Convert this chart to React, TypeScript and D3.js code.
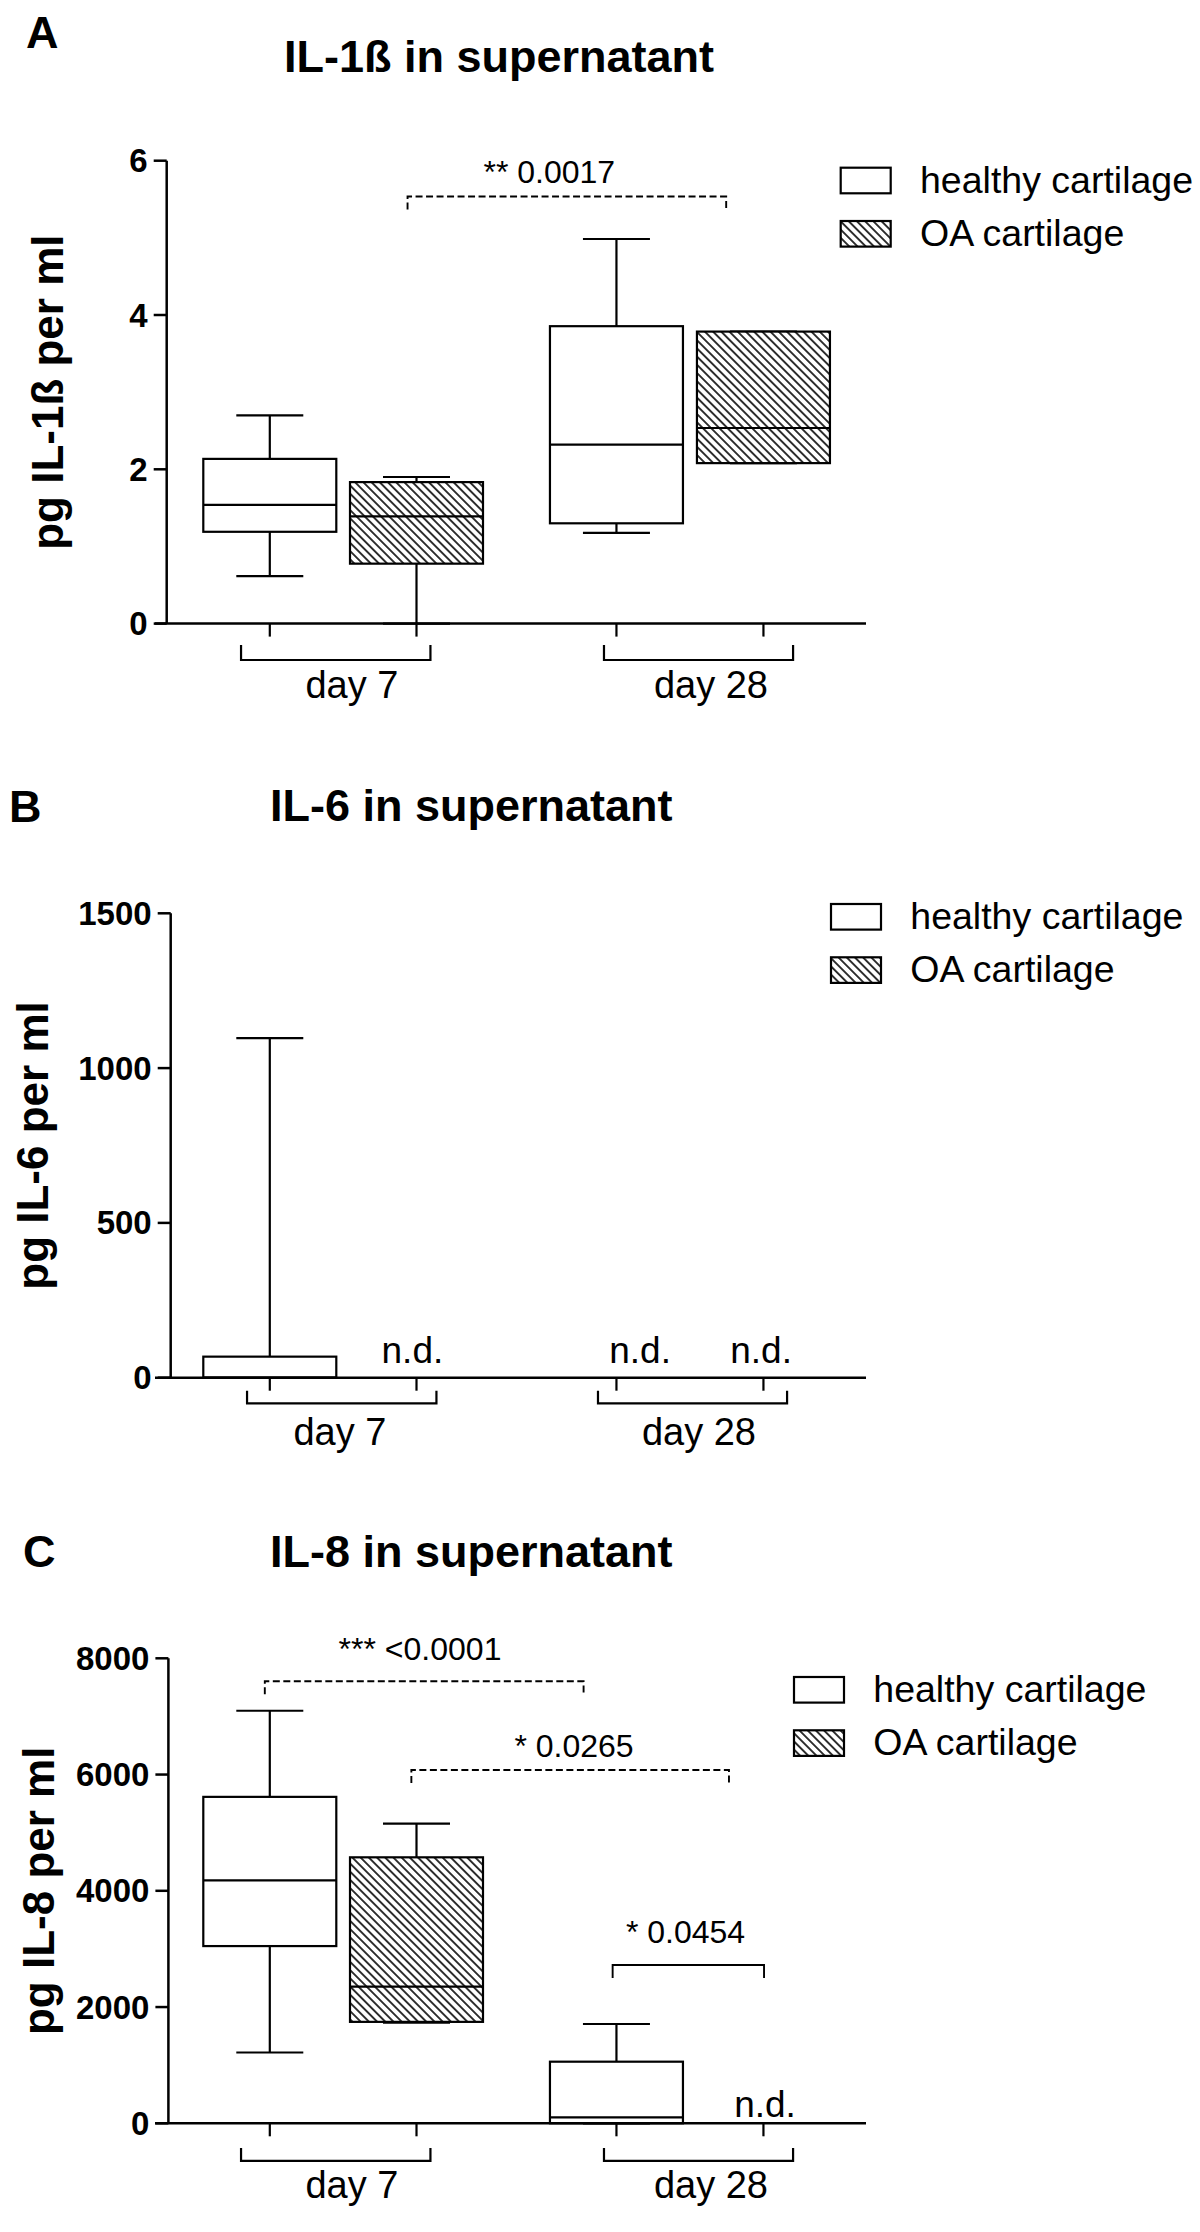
import React from 'react';
import * as d3 from 'd3';

// ---------- data ----------
const seriesNames = ['healthy cartilage', 'OA cartilage'];
const dayLabels = ['day 7', 'day 28'];
// box order: healthy d7, OA d7, healthy d28, OA d28 (slot positions on the category axis)
const boxSlots = [0, 1, 2.363, 3.365];
const boxSeries = [0, 1, 0, 1];
const daySlots = [0.56, 3.007];
const dayBracketSlots = [[-0.196, 1.095], [2.278, 3.567]];

// [min, q1, median, q3, max]
const il1bStats = [
  [0.615, 1.19, 1.54, 2.135, 2.70],
  [0, 0.777, 1.39, 1.834, 1.90],
  [1.175, 1.30, 2.32, 3.855, 4.985],
  [2.08, 2.08, 2.535, 3.785, 3.785],
];
const il6Stats = [[0, 0, 0, 68, 1097], null, null, null];
const il8Stats = [
  [1218, 3049, 4181, 5616, 7098],
  [1730, 1745, 2351, 4576, 5155],
  [0, 0, 103, 1060, 1708],
  null,
];

const il1bTicks = [0, 2, 4, 6];
const il6Ticks = [0, 500, 1000, 1500];
const il8Ticks = [0, 2000, 4000, 6000, 8000];

const il1bSig = [{ label: '** 0.0017', s1: 0.939, s2: 3.111, v: 5.535, ts: 1.905, tv: 5.711, dashed: true }];
const il6Sig: any[] = [];
const il8Sig = [
  { label: '*** <0.0001', s1: -0.034, s2: 2.139, v: 7606, ts: 1.024, tv: 7967, dashed: true },
  { label: '* 0.0265', s1: 0.965, s2: 3.13, v: 6078, ts: 2.074, tv: 6309, dashed: true },
  { label: '* 0.0454', s1: 2.337, s2: 3.369, v: 2723, ts: 2.834, tv: 3107, dashed: false },
];

const il1bND: any[] = [];
const il6ND = [{ s: 0.972, v: 48 }, { s: 2.524, v: 48 }, { s: 3.349, v: 48 }];
const il8ND = [{ s: 3.376, v: 108 }];

const panelLetters = ['A', 'B', 'C'];
const panelTitles = ['IL-1ß in supernatant', 'IL-6 in supernatant', 'IL-8 in supernatant'];
const yTitles = ['pg IL-1ß per ml', 'pg IL-6 per ml', 'pg IL-8 per ml'];

// ---------- layout (pixels) ----------
const layouts = [
  { axisX: 166.7, yTop: 160.7, y0: 623.6, letterX: 26, letterY: 48, titleY: 71.7, titleX: 284, ylabX: 62.6,
    brTop: 21.4, brBot: 36.4, dayY: 74.4, dayDx: 0, legX: 840.7, legY: 167.7 },
  { axisX: 170.7, yTop: 913.3, y0: 1377.7, letterX: 9, letterY: 822, titleY: 821, titleX: 270, ylabX: 48,
    brTop: 13, brBot: 25.6, dayY: 67, dayDx: -12, legX: 831, legY: 904 },
  { axisX: 168.4, yTop: 1658.3, y0: 2123.3, letterX: 23, letterY: 1567, titleY: 1567, titleX: 270, ylabX: 54,
    brTop: 24.7, brBot: 37.5, dayY: 75, dayDx: 0, legX: 794, legY: 1677 },
];

const panelsData = [
  { stats: il1bStats, ticks: il1bTicks, sig: il1bSig, nd: il1bND },
  { stats: il6Stats, ticks: il6Ticks, sig: il6Sig, nd: il6ND },
  { stats: il8Stats, ticks: il8Ticks, sig: il8Sig, nd: il8ND },
];

const FONT = "'Liberation Sans', Arial, Helvetica, sans-serif";

function Panel({ idx }: { idx: number }) {
  const L = layouts[idx];
  const D = panelsData[idx];
  const ymax = D.ticks[D.ticks.length - 1];
  const y = d3.scaleLinear().domain([0, ymax]).range([L.y0, L.yTop]);
  const xs = d3.scaleLinear().domain([0, 1]).range([269.8, 416.5]);
  const halfW = 66.5;
  const capHalf = 33.5;
  const sw = 2.2;

  return (
    <g>
      <text x={L.letterX} y={L.letterY} fontSize={45} fontWeight="bold" fontFamily={FONT}>{panelLetters[idx]}</text>
      <text x={L.titleX} y={L.titleY} fontSize={45} fontWeight="bold" fontFamily={FONT}>{panelTitles[idx]}</text>
      <text transform={`translate(${L.ylabX},${(L.yTop + L.y0) / 2}) rotate(-90)`} textAnchor="middle"
        fontSize={44} fontWeight="bold" fontFamily={FONT}>{yTitles[idx]}</text>

      {/* boxes */}
      {D.stats.map((s: any, i: number) => {
        if (!s) return null;
        const cx = xs(boxSlots[i]);
        const fill = boxSeries[i] === 1 ? 'url(#hatch)' : '#fff';
        return (
          <g key={i} stroke="#000" strokeWidth={sw} fill="none">
            <line x1={cx} x2={cx} y1={y(s[4])} y2={y(s[3])} />
            <line x1={cx} x2={cx} y1={y(s[1])} y2={y(s[0])} />
            <line x1={cx - capHalf} x2={cx + capHalf} y1={y(s[4])} y2={y(s[4])} />
            <line x1={cx - capHalf} x2={cx + capHalf} y1={y(s[0])} y2={y(s[0])} />
            <rect x={cx - halfW} width={2 * halfW} y={y(s[3])} height={y(s[1]) - y(s[3])} fill={fill} />
            <line x1={cx - halfW} x2={cx + halfW} y1={y(s[2])} y2={y(s[2])} />
          </g>
        );
      })}

      {/* axes */}
      <line x1={L.axisX} x2={L.axisX} y1={L.yTop} y2={L.y0} stroke="#000" strokeWidth={2.5} />
      <line x1={155} x2={866} y1={L.y0} y2={L.y0} stroke="#000" strokeWidth={2.5} />
      {D.ticks.map((t: number) => (
        <g key={t}>
          <line x1={L.axisX - 13} x2={L.axisX} y1={y(t)} y2={y(t)} stroke="#000" strokeWidth={2.5} />
          <text x={L.axisX - 19} y={y(t) + 11.5} textAnchor="end" fontSize={33} fontWeight="bold" fontFamily={FONT}>{t}</text>
        </g>
      ))}
      {boxSlots.map((s, i) => (
        <line key={i} x1={xs(s)} x2={xs(s)} y1={L.y0} y2={L.y0 + 13} stroke="#000" strokeWidth={2.2} />
      ))}
      {dayBracketSlots.map((b, i) => {
        const x1 = xs(b[0]) + (idx === 1 ? (i === 0 ? 6 : -6) : 0);
        const x2 = xs(b[1]) + (idx === 1 ? (i === 0 ? 6 : -6) : 0);
        return (
          <path key={i} d={`M${x1},${L.y0 + L.brTop} V${L.y0 + L.brBot} H${x2} V${L.y0 + L.brTop}`}
            fill="none" stroke="#000" strokeWidth={2.2} />
        );
      })}
      {dayLabels.map((d, i) => (
        <text key={d} x={xs(daySlots[i]) + L.dayDx} y={L.y0 + L.dayY} textAnchor="middle" fontSize={38} fontFamily={FONT}>{d}</text>
      ))}

      {/* significance */}
      {D.sig.map((g: any, i: number) => {
        const x1 = xs(g.s1), x2 = xs(g.s2), yy = y(g.v);
        return (
          <g key={i}>
            <path d={`M${x1},${yy + 13} V${yy} H${x2} V${yy + 13}`} fill="none" stroke="#000" strokeWidth={1.9}
              strokeDasharray={g.dashed ? '7 3.5' : undefined} />
            <text x={xs(g.ts)} y={y(g.tv)} textAnchor="middle" fontSize={32} fontFamily={FONT}>{g.label}</text>
          </g>
        );
      })}

      {/* not detected */}
      {D.nd.map((n: any, i: number) => (
        <text key={i} x={xs(n.s)} y={y(n.v)} textAnchor="middle" fontSize={37} fontFamily={FONT}>n.d.</text>
      ))}

      {/* legend */}
      {seriesNames.map((name, i) => (
        <g key={name}>
          <rect x={L.legX} y={L.legY + i * 53.3} width={50} height={25.6}
            fill={i === 1 ? 'url(#hatch)' : '#fff'} stroke="#000" strokeWidth={2.2} />
          <text x={L.legX + 79.3} y={L.legY + i * 53.3 + 25} fontSize={37.5} fontFamily={FONT}>{name}</text>
        </g>
      ))}
    </g>
  );
}

export default function App() {
  return (
    <svg width={1200} height={2232} viewBox="0 0 1200 2232"
      style={{ position: 'absolute', left: 0, top: 0, background: '#fff' }}>
      <defs>
        <pattern id="hatch" width={5.8} height={10} patternUnits="userSpaceOnUse" patternTransform="rotate(-45)">
          <rect width={5.8} height={10} fill="#fff" />
          <line x1={2.9} y1={0} x2={2.9} y2={10} stroke="#000" strokeWidth={1.6} />
        </pattern>
      </defs>
      <rect width={1200} height={2232} fill="#fff" />
      {[0, 1, 2].map((i) => <Panel key={i} idx={i} />)}
    </svg>
  );
}
